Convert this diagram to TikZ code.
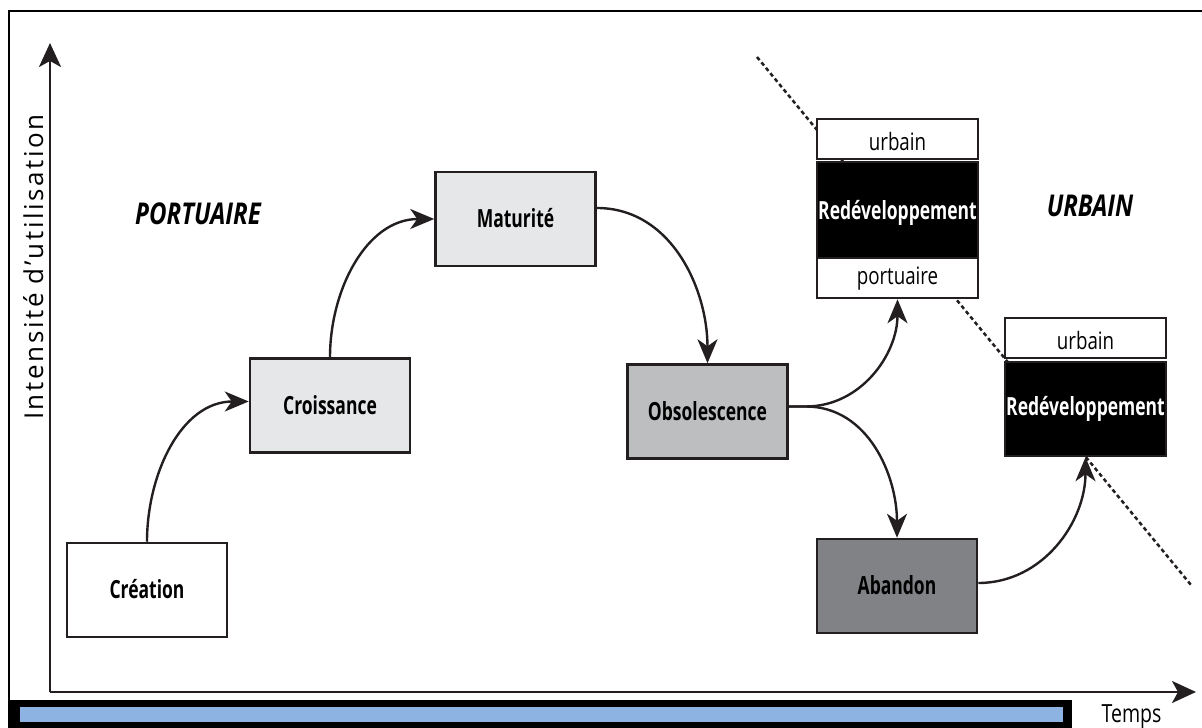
\documentclass[tikz,border=0pt]{standalone}
\usepackage{fontspec}
\setmainfont{Open Sans}
\newfontfamily\bcfont[FakeStretch=0.70]{Open Sans}
\newfontfamily\lcfont[FakeStretch=0.78]{Open Sans}
\newfontfamily\tcfont[FakeStretch=0.8]{Open Sans}
\newfontfamily\ylfont[LetterSpace=10]{Open Sans}
\usetikzlibrary{arrows.meta}
\definecolor{boxline}{HTML}{231F20}
\definecolor{lgray}{HTML}{E6E7E8}
\definecolor{mgray}{HTML}{BCBEC0}
\definecolor{dgray}{HTML}{808285}
\definecolor{barblue}{HTML}{8DB3E2}
\tikzset{
  box/.style={draw=boxline, line width=2.5pt, minimum width=160pt, minimum height=94pt,
    inner sep=0pt, text height=17.5pt, text depth=0pt, font=\fontsize{25}{29}\bcfont\bfseries},
  darkbox/.style={box, fill=black, text=white, minimum width=161pt},
  subbox/.style={draw=boxline, line width=2.5pt, fill=white, minimum width=161pt, minimum height=40pt,
    inner sep=0pt, text depth=0pt, font=\fontsize{24}{28}\lcfont},
  conn/.style={line width=2.4pt, draw=boxline, -{Stealth[length=24pt,width=20pt,inset=7pt]}},
  axis/.style={line width=2.4pt, draw=boxline, -{Stealth[length=24pt,width=22pt,inset=6pt]}},
  zone/.style={font=\fontsize{30}{34}\tcfont\bfseries\itshape, anchor=base, inner sep=0pt},
}
\begin{document}
\begin{tikzpicture}[x=1pt,y=1pt]
\useasboundingbox (0,0) rectangle (1202,728);
% frame and bottom bar
\draw[line width=2.5pt] (9,28) -- (9,717) -- (1202,717);
\fill[black] (8,0) rectangle (1072,28);
\fill[barblue] (20,6) rectangle (1063,21);
% dashed boundary
\draw[line width=2.5pt, dash pattern=on 4pt off 3pt, draw=boxline] (757,671) -- (1191,143);
% axes
\coordinate (O) at (50,36);
\coordinate (ytip) at (50,685);
\coordinate (xtip) at (1196,36);
\draw[axis] (O) -- (ytip);
\draw[axis] (O) -- (xtip);
\node[rotate=90, anchor=base, inner sep=0pt, font=\fontsize{26}{30}\ylfont] (ylab) at (43,461) {Intensité d’utilisation};
\node[anchor=base, inner sep=0pt, font=\fontsize{25}{30}\lcfont] (temps) at (1131.5,5) {Temps};
% zone labels
\node[zone] (port) at (198,503) {PORTUAIRE};
\node[zone] (urbz) at (1090,511) {URBAIN};
% boxes
\node[box, fill=white] (cre) at (147,138) {Création};
\node[box, fill=lgray] (cro) at (330,322.5) {Croissance};
\node[box, fill=lgray] (mat) at (515.5,509) {Maturité};
\node[box, fill=mgray] (obs) at (707.5,316.5) {Obsolescence};
\node[box, fill=dgray] (aba) at (897,142) {Abandon};
\node[darkbox, minimum height=96pt, text height=19pt] (red1) at (897.5,518) {Redéveloppement};
\node[subbox, text height=24pt] (urb1) at (897.5,589) {urbain};
\node[subbox, text height=14pt] (por1) at (897.5,450) {portuaire};
\node[darkbox, text height=14pt] (red2) at (1085.5,319) {Redéveloppement};
\node[subbox, text height=24pt] (urb2) at (1085.5,390) {urbain};
% connectors
\draw[conn] (cre.north) to[out=90,in=180] ([yshift=4pt]cro.west);
\draw[conn] (cro.north) to[out=90,in=180] (mat.west);
\draw[conn] ([yshift=11pt]mat.east) to[out=0,in=90] (obs.north);
\draw[conn] ([yshift=5pt]obs.east) -- ++(17,0) to[out=0,in=-90] (por1.south);
\draw[conn] ([yshift=5pt]obs.east) -- ++(17,0) to[out=0,in=90] (aba.north);
\draw[conn] ([yshift=3pt]aba.east) to[out=0,in=-90] (red2.south);
\end{tikzpicture}
\end{document}
